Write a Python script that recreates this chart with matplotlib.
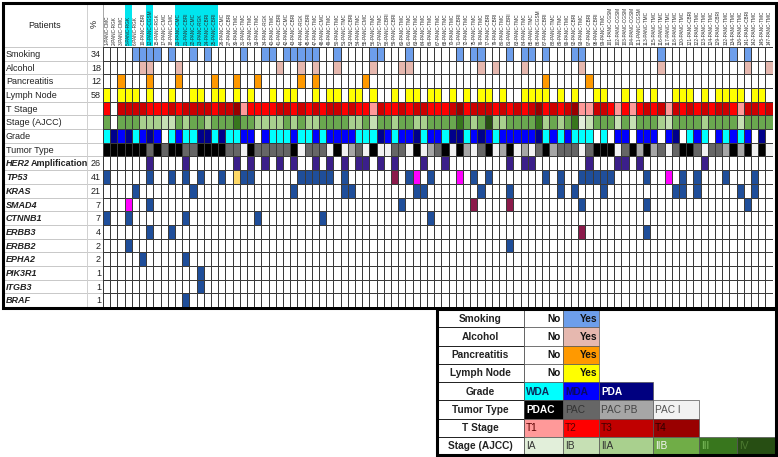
import matplotlib
matplotlib.use("Agg")
import matplotlib.pyplot as plt
import numpy as np
from matplotlib.colors import ListedColormap
from matplotlib.patches import Rectangle
import matplotlib.transforms as mtrans

plt.rcParams['font.family'] = ['Liberation Sans', 'DejaVu Sans']

# ---------------- data ----------------
patients = [
    "1-PANC-CMC", "2-PANC-RGK", "3-PANC-CMC", "5-PANC-RGK", "6-PANC-RGK", "10-PANC-CBRI",
    "12-PANC-CGSM", "15-PANC-RGK", "17-PANC-CMC", "18-PANC-CMC", "20-PANC-CMC", "21-PANC-CBRI",
    "22-PANC-CMC", "23-PANC-RGK", "24-PANC-CBRI", "25-PANC-CBRI", "26-PANC-CMC", "27-PANC-CBRI",
    "30-PANC-TMC", "31-PANC-TMC", "32-PANC-TMC", "33-PANC-TMC", "34-PANC-RGK", "40-PANC-TMC",
    "41-PANC-CBRI", "42-PANC-CMC", "43-PANC-CBRI", "44-PANC-RGK", "45-PANC-CBRI", "47-PANC-TMC",
    "48-PANC-CMC", "49-PANC-TMC", "50-PANC-TMC", "51-PANC-TMC", "53-PANC-CBRI", "54-PANC-TMC",
    "55-PANC-CMC", "56-PANC-TMC", "57-PANC-TMC", "58-PANC-CBRI", "59-PANC-CBRI", "60-PANC-TMC",
    "61-PANC-TMC", "63-PANC-TMC", "64-PANC-TMC", "66-PANC-TMC", "67-PANC-TMC", "68-PANC-TMC",
    "70-PANC-TMC", "71-PANC-CBRI", "72-PANC-TMC", "75-PANC-TMC", "76-PANC-TMC", "77-PANC-CBRI",
    "79-PANC-CBRI", "80-PANC-TMC", "81-PANC-CBRI", "83-PANC-TMC", "84-PANC-TMC", "85-PANC-TMC",
    "86-PANC-CGSM", "87-PANC-CBRI", "88-PANC-TMC", "89-PANC-TMC", "90-PANC-TMC", "92-PANC-CBRI",
    "93-PANC-TMC", "97-PANC-CBRI", "98-PANC-CBRI", "99-PANC-TMC", "101-PANC-CGSM", "102-PANC-CGSM",
    "103-PANC-CGSM", "104-PANC-CGSM", "111-PANC-CGSM", "113-PANC-TMC", "115-PANC-TMC", "116-PANC-TMC",
    "117-PANC-TMC", "118-PANC-TMC", "120-PANC-TMC", "121-PANC-CBRI", "122-PANC-TMC", "123-PANC-TMC",
    "124-PANC-TMC", "129-PANC-CBRI", "132-PANC-TMC", "134-PANC-TMC", "136-PANC-TMC", "141-PANC-CBRI",
    "142-PANC-TMC", "145-PANC-TMC", "147-PANC-TMC"]
highlighted_patients = [3, 6, 10, 11, 12, 13, 14, 15]

clinical_rows = ["Smoking", "Alcohol", "Pancreatitis", "Lymph Node",
                 "T Stage", "Stage (AJCC)", "Grade", "Tumor Type"]
clinical_pct = ["34", "18", "12", "58", "", "", "", ""]

smoking_yes = [4, 5, 6, 7, 9, 12, 14, 19, 22, 23, 25, 26, 27, 28, 29, 32, 37, 38, 42, 49, 51,
               52, 56, 58, 59, 61, 65, 66, 77, 87, 89]
alcohol_yes = [5, 6, 10, 24, 27, 29, 32, 37, 41, 42, 52, 54, 58, 66, 77, 89, 92]
pancreatitis_yes = [2, 6, 10, 15, 18, 21, 27, 29, 36, 61, 67]
lymph_node_yes = [0, 2, 3, 4, 6, 9, 12, 13, 15, 16, 18, 20, 23, 25, 26, 29, 31, 32, 34, 35, 37, 40,
                  42, 43, 45, 46, 48, 50, 52, 53, 55, 58, 59, 60, 61, 63, 65, 68, 69, 72, 74,
                  76, 79, 80, 81, 83, 85, 86, 87, 88, 90, 91]

# 0 = missing, 1..4 = T1..T4
t_stage = [2, 0, 3, 3, 3, 3, 2, 2, 2, 3, 2, 3, 3, 3, 3, 2, 3, 3, 4, 1, 2, 2,
           2, 2, 3, 3, 2, 3, 2, 3, 2, 3, 3, 2, 3, 2, 2, 1, 3, 2, 2, 3, 2, 3, 3, 2, 2, 2, 3, 4, 2, 3, 3, 3, 2, 3,
           2, 3, 2, 3, 4, 2, 3, 2, 3, 4, 1, 1, 3, 3, 2, 1, 2, 1, 2, 3, 2, 3, 1, 3, 2, 3, 2, 3, 2, 3, 3, 2, 1, 3, 3, 2, 3]
# 0 = missing, 1..6 = IA, IB, IIA, IIB, III, IV
ajcc_stage = [4, 0, 4, 4, 4, 3, 3, 3, 2, 2, 4, 3, 4, 4, 3, 4, 4, 4, 5, 4, 4, 3,
              3, 3, 3, 4, 3, 4, 3, 3, 4, 4, 4, 4, 3, 3, 4, 2, 4, 4, 3, 4, 4, 3, 3, 4, 4, 4, 4, 5, 4, 3, 4, 6, 3, 3,
              4, 4, 4, 4, 5, 3, 4, 3, 4, 5, 1, 2, 4, 4, 4, 2, 4, 2, 4, 4, 4, 3, 2, 4, 4, 4, 4, 3, 4, 4, 4, 4, 2, 4, 4, 4, 4]
# 0 = missing, 1 = WDA, 2 = MDA, 3 = PDA
grade = [1, 3, 2, 3, 1, 2, 3, 2, 0, 1, 2, 1, 1, 3, 3, 1, 3, 1, 1, 2, 2, 0,
         2, 1, 1, 1, 2, 1, 1, 2, 1, 2, 2, 2, 2, 1, 1, 1, 3, 2, 1, 2, 2, 3, 1, 2, 2, 1, 3, 3, 1, 2, 3, 2, 1, 2,
         2, 2, 2, 2, 3, 1, 2, 1, 2, 1, 1, 1, 0, 1, 0, 2, 2, 0, 2, 2, 2, 0, 2, 3, 0, 1, 2, 1, 0, 2, 1, 2, 1, 2, 0, 3, 0]
# 1 = PDAC, 2 = PAC, 3 = PAC PB, 4 = PAC I
tumor_type = [1, 1, 1, 1, 1, 1, 2, 1, 2, 1, 1, 2, 2, 1, 1, 1, 1, 2, 2, 4, 1, 2,
              2, 2, 2, 2, 1, 4, 2, 2, 2, 4, 1, 4, 3, 2, 4, 1, 4, 4, 2, 2, 4, 1, 4, 3, 2, 1, 4, 1, 3, 4, 2, 1, 4, 3,
              1, 4, 3, 4, 2, 1, 3, 2, 2, 2, 4, 2, 1, 1, 1, 4, 2, 1, 3, 1, 3, 2, 4, 2, 1, 1, 2, 4, 2, 2, 3, 1, 3, 1, 4, 1, 4]

gene_rows = ["HER2", "TP53", "KRAS", "SMAD4", "CTNNB1", "ERBB3", "ERBB2", "EPHA2",
             "PIK3R1", "ITGB3", "BRAF"]
gene_pct = ["26", "41", "21", "7", "7", "4", "2", "2", "1", "1", "1"]

her2_amplified = [6, 11, 18, 20, 22, 24, 26, 29, 31, 33, 35, 36, 38, 40, 44, 47, 56, 58, 59, 67,
                  71, 72, 74, 83]
tp53_blue = [0, 6, 9, 11, 13, 16, 19, 20, 27, 28, 29, 30, 31, 33, 42, 45, 51, 53, 61, 63, 66, 67,
             68, 69, 70, 75, 80, 82, 86, 90]
tp53_maroon = [40]
tp53_magenta = [43, 49, 78]
tp53_gold = [18]
kras_blue = [4, 12, 26, 33, 34, 43, 44, 52, 56, 63, 65, 69, 79, 80, 82, 88, 90]
smad4_blue = [6, 41, 66, 75, 89]
smad4_maroon = [51, 56]
smad4_magenta = [3]
ctnnb1_blue = [0, 3, 11, 21, 30, 45]
erbb3_blue = [6, 9, 75]
erbb3_maroon = [66]
erbb2_blue = [3, 56]
epha2_blue = [5, 11]
pik3r1_blue = [13]
itgb3_blue = [13]
braf_blue = [11]

# ---------------- colours ----------------
palette = {
    "none": "#ffffff", "smoke": "#6d9eeb", "alcohol": "#e6b8af", "panc": "#ff9900",
    "lymph": "#ffff00",
    "T1": "#ff9999", "T2": "#ff0000", "T3": "#cc0000", "T4": "#990000",
    "IA": "#e2efda", "IB": "#c6e0b4", "IIA": "#a9d08e", "IIB": "#6aa84f", "III": "#38761d",
    "IV": "#274e13",
    "WDA": "#00ffff", "MDA": "#0000ff", "PDA": "#00008b",
    "PDAC": "#000000", "PAC": "#666666", "PACPB": "#a6a6a6", "PACI": "#f2f2f2",
    "blue": "#1f4e9a", "amp": "#3b1f8a", "maroon": "#8b1a4b", "magenta": "#ff00ff",
    "gold": "#ffd966",
}
keys = list(palette.keys())
idx = {k: i for i, k in enumerate(keys)}

N = len(patients)
R = len(clinical_rows) + len(gene_rows)
M = np.zeros((R, N), dtype=int)

def fill(row, cols, key):
    for c in cols:
        M[row, c] = idx[key]

fill(0, smoking_yes, "smoke")
fill(1, alcohol_yes, "alcohol")
fill(2, pancreatitis_yes, "panc")
fill(3, lymph_node_yes, "lymph")
tkeys = [None, "T1", "T2", "T3", "T4"]
skeys = [None, "IA", "IB", "IIA", "IIB", "III", "IV"]
gkeys = [None, "WDA", "MDA", "PDA"]
ykeys = [None, "PDAC", "PAC", "PACPB", "PACI"]
for c in range(N):
    if t_stage[c]:
        M[4, c] = idx[tkeys[t_stage[c]]]
    if ajcc_stage[c]:
        M[5, c] = idx[skeys[ajcc_stage[c]]]
    if grade[c]:
        M[6, c] = idx[gkeys[grade[c]]]
    if tumor_type[c]:
        M[7, c] = idx[ykeys[tumor_type[c]]]
g0 = len(clinical_rows)
fill(g0 + 0, her2_amplified, "amp")
fill(g0 + 1, tp53_blue, "blue"); fill(g0 + 1, tp53_maroon, "maroon")
fill(g0 + 1, tp53_magenta, "magenta"); fill(g0 + 1, tp53_gold, "gold")
fill(g0 + 2, kras_blue, "blue")
fill(g0 + 3, smad4_blue, "blue"); fill(g0 + 3, smad4_maroon, "maroon")
fill(g0 + 3, smad4_magenta, "magenta")
fill(g0 + 4, ctnnb1_blue, "blue")
fill(g0 + 5, erbb3_blue, "blue"); fill(g0 + 5, erbb3_maroon, "maroon")
fill(g0 + 6, erbb2_blue, "blue")
fill(g0 + 7, epha2_blue, "blue")
fill(g0 + 8, pik3r1_blue, "blue")
fill(g0 + 9, itgb3_blue, "blue")
fill(g0 + 10, braf_blue, "blue")

# ---------------- figure ----------------
W, H = 778, 457
fig = plt.figure(figsize=(W / 100, H / 100), dpi=100)
canvas = fig.add_axes([0, 0, 1, 1])
canvas.set_xlim(0, W)
canvas.set_ylim(H, 0)
canvas.axis('off')

def px_axes(x0, y0, x1, y1):
    return fig.add_axes([x0 / W, 1 - y1 / H, (x1 - x0) / W, (y1 - y0) / H])

GX0, GX1, GY0, GY1 = 103, 772.5, 47, 307
grid = px_axes(GX0, GY0, GX1, GY1)
cmap = ListedColormap([palette[k] for k in keys])
grid.pcolormesh(np.arange(N + 1), np.arange(R + 1), M, cmap=cmap,
                vmin=-0.5, vmax=len(keys) - 0.5, edgecolors='#3a3a3a', linewidth=0.6)
grid.set_xlim(0, N)
grid.set_ylim(R, 0)
grid.axis('off')

bx_gy = mtrans.blended_transform_factory(canvas.transData, grid.transData)
gx_by = mtrans.blended_transform_factory(grid.transData, canvas.transData)

# header highlights and patient labels
for c in highlighted_patients:
    canvas.add_patch(Rectangle((c, 4), 1, 42, transform=gx_by, facecolor='#00e5ee',
                               edgecolor='none', zorder=1))
for c, lab in enumerate(patients):
    canvas.text(c + 0.5, 45, lab, transform=gx_by, rotation=90, ha='center', va='bottom',
                fontsize=3.4, color='#2a2a2a', zorder=3)

canvas.text(45, 25, "Patients", ha='center', va='center', fontsize=6.5, color='#222222')
canvas.text(94, 24, "%", ha='center', va='center', fontsize=6.5, rotation=90, color='#222222')

# left label area lines
for r in range(0, R + 1):
    canvas.plot([3, 103], [r, r], transform=bx_gy, color='#c8c8c8', lw=0.7, zorder=2)
canvas.plot([87, 87], [3, 308], color='#d0d0d0', lw=0.7)
canvas.plot([103, 103], [3, 47], color='#9a9a9a', lw=0.6)

for r, (name, p) in enumerate(zip(clinical_rows, clinical_pct)):
    canvas.text(6, r + 0.55, name, transform=bx_gy, ha='left', va='center', fontsize=6.5,
                color='#222222')
    canvas.text(101, r + 0.55, p, transform=bx_gy, ha='right', va='center', fontsize=6.5,
                color='#222222')
for j, (name, p) in enumerate(zip(gene_rows, gene_pct)):
    r = g0 + j
    t = canvas.text(6, r + 0.55, name, transform=bx_gy, ha='left', va='center', fontsize=6.5,
                    fontweight='bold', fontstyle='italic', color='#222222')
    if name == "HER2":
        canvas.annotate("Amplification", xy=(1, 0.5), xycoords=t, xytext=(0.3, 0),
                        textcoords='offset points', ha='left', va='center',
                        fontsize=6.5, fontweight='bold', color='#222222')
    canvas.text(101, r + 0.55, p, transform=bx_gy, ha='right', va='center', fontsize=6.5,
                color='#222222')

# outer border
canvas.add_patch(Rectangle((3, 3), 773, 305, fill=False, edgecolor='black', lw=2.2, zorder=6))

# ---------------- legend ----------------
leg_labels = ["Smoking", "Alcohol", "Pancreatitis", "Lymph Node", "Grade", "Tumor Type",
              "T Stage", "Stage (AJCC)"]
leg_entries = [
    [("No", "#ffffff", "#111111", 'bold'), ("Yes", palette["smoke"], "#111111", 'bold')],
    [("No", "#ffffff", "#111111", 'bold'), ("Yes", palette["alcohol"], "#111111", 'bold')],
    [("No", "#ffffff", "#111111", 'bold'), ("Yes", palette["panc"], "#111111", 'bold')],
    [("No", "#ffffff", "#111111", 'bold'), ("Yes", palette["lymph"], "#111111", 'bold')],
    [("WDA", palette["WDA"], "#0b2a5a", 'bold'), ("MDA", palette["MDA"], "#0a0a60", 'bold'),
     ("PDA", "#000080", "#ffffff", 'bold')],
    [("PDAC", "#000000", "#ffffff", 'bold'), ("PAC", palette["PAC"], "#333333", 'normal'),
     ("PAC PB", palette["PACPB"], "#444444", 'normal'), ("PAC I", palette["PACI"], "#555555", 'normal')],
    [("T1", palette["T1"], "#5a0000", 'normal'), ("T2", palette["T2"], "#5a0000", 'normal'),
     ("T3", "#c00000", "#400000", 'normal'), ("T4", palette["T4"], "#300000", 'normal')],
    [("IA", palette["IA"], "#333333", 'normal'), ("IB", palette["IB"], "#333333", 'normal'),
     ("IIA", palette["IIA"], "#333333", 'normal'), ("IIB", "#70ad47", "#f4f4f4", 'normal'),
     ("III", "#38761d", "#7fbf5f", 'normal'), ("IV", "#274e13", "#4c7a30", 'normal')],
]
LX = [437, 524, 563, 599, 653, 699, 737, 776]
LY0, LY1 = 309, 455
dy = (LY1 - LY0) / len(leg_labels)
for i, (lab, entries) in enumerate(zip(leg_labels, leg_entries)):
    y0 = LY0 + i * dy
    canvas.add_patch(Rectangle((LX[0], y0), LX[1] - LX[0], dy, facecolor='white',
                               edgecolor='#222222', lw=0.7, zorder=3))
    canvas.text((LX[0] + LX[1]) / 2, y0 + dy / 2 + 0.5, lab, ha='center', va='center',
                fontsize=7.3, fontweight='bold', color='#222222', zorder=5)
    for k, (txt, fc, tc, fw) in enumerate(entries):
        x0, x1 = LX[k + 1], LX[k + 2]
        canvas.add_patch(Rectangle((x0, y0), x1 - x0, dy, facecolor=fc, edgecolor='#555555',
                                   lw=0.5, zorder=3))
        if i < 4:
            canvas.text(x1 - 2, y0 + dy / 2 + 0.5, txt, ha='right', va='center', fontsize=7.3,
                        fontweight=fw, color=tc, zorder=5)
        else:
            canvas.text(x0 + 2, y0 + dy / 2 + 0.5, txt, ha='left', va='center', fontsize=7.3,
                        fontweight=fw, color=tc, zorder=5)
canvas.add_patch(Rectangle((LX[0], LY0), LX[-1] - LX[0], LY1 - LY0, fill=False,
                           edgecolor='black', lw=2.2, zorder=6))

fig.savefig("out.png", dpi=100)
